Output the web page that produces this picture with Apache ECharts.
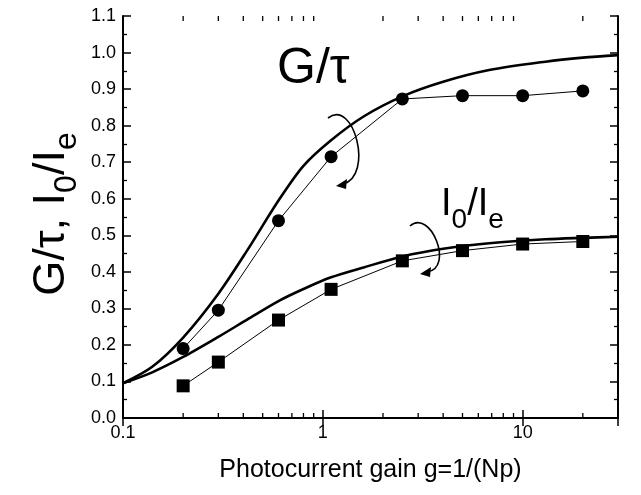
<!DOCTYPE html>
<html>
<head>
<meta charset="utf-8">
<script src="https://cdn.jsdelivr.net/npm/echarts@6/dist/echarts.min.js"></script>
<style>
  html, body { margin: 0; padding: 0; background: #fff; }
  #chart { width: 641px; height: 495px; }
</style>
</head>
<body>
<div id="chart"></div>
<script>
// 测量点（圆点 / 方块）
const gainPts = [0.2, 0.3, 0.6, 1.1, 2.5, 5, 10, 20];
const gTauMeas = [0.19, 0.295, 0.54, 0.715, 0.873, 0.882, 0.882, 0.895];
const i0IeMeas = [0.088, 0.153, 0.268, 0.352, 0.43, 0.458, 0.476, 0.483];

// 理论曲线（粗线）
const gainCurve = [0.1, 0.14, 0.2, 0.3, 0.42, 0.6, 0.8, 1.1, 1.6, 2.5, 4, 6.8, 13, 20, 30];
const gTauCurve = [0.095, 0.14, 0.22, 0.34, 0.46, 0.595, 0.69, 0.76, 0.825, 0.88, 0.92, 0.952, 0.975, 0.986, 0.993];
const i0IeCurve = [0.095, 0.125, 0.167, 0.222, 0.27, 0.32, 0.353, 0.385, 0.412, 0.442, 0.463, 0.478, 0.489, 0.493, 0.496];

// 对数轴次刻度
const minorXTicks = [0.2, 0.3, 0.4, 0.5, 0.6, 0.7, 0.8, 0.9, 2, 3, 4, 5, 6, 7, 8, 9, 20];

const FONT = 'Liberation Sans, Arial, sans-serif';
const pairs = (xs, ys) => xs.map((x, i) => [x, ys[i]]);

const lineAxis = { show: true, lineStyle: { color: '#000', width: 2 } };
const majorTick = { inside: true, length: 8, lineStyle: { color: '#000', width: 1.5 } };
const minorTick = { show: true, splitNumber: 2, length: 4, lineStyle: { color: '#000', width: 1.3 } };

const chart = echarts.init(document.getElementById('chart'));
chart.setOption({
  animation: false,
  grid: { left: 123, right: 23, top: 16, bottom: 77, outerBoundsMode: 'none' },
  xAxis: [{
    type: 'log', logBase: 10, min: 0.1, max: 30,
    axisLine: lineAxis, axisTick: majorTick,
    axisLabel: { fontSize: 18, color: '#000', fontFamily: FONT, margin: 6, showMaxLabel: false,
      formatter: v => String(+v.toPrecision(3)) },
    splitLine: { show: false },
    name: 'Photocurrent gain g=1/(Np)', nameLocation: 'middle', nameGap: 40,
    nameTextStyle: { fontSize: 25, color: '#000', fontFamily: FONT }
  }, {
    type: 'log', logBase: 10, min: 0.1, max: 30, position: 'top',
    axisLine: lineAxis, axisTick: majorTick,
    axisLabel: { show: false }, splitLine: { show: false }
  }],
  yAxis: [{
    type: 'value', min: 0, max: 1.1, interval: 0.1,
    axisLine: lineAxis, axisTick: majorTick, minorTick: minorTick,
    axisLabel: { fontSize: 18, color: '#000', fontFamily: FONT, margin: 7, formatter: v => v.toFixed(1) },
    splitLine: { show: false }
  }, {
    type: 'value', min: 0, max: 1.1, interval: 0.1, position: 'right',
    axisLine: lineAxis, axisTick: majorTick, minorTick: minorTick,
    axisLabel: { show: false },
    splitLine: { show: false }
  }],
  series: [
    {
      name: 'G/τ theory', type: 'line', data: pairs(gainCurve, gTauCurve),
      smooth: 0.3, showSymbol: false,
      lineStyle: { color: '#000', width: 2.6 }
    },
    {
      name: 'I0/Ie theory', type: 'line', data: pairs(gainCurve, i0IeCurve),
      smooth: 0.3, showSymbol: false,
      lineStyle: { color: '#000', width: 2.6 }
    },
    {
      name: 'G/τ', type: 'line', data: pairs(gainPts, gTauMeas),
      symbol: 'circle', symbolSize: 13,
      lineStyle: { color: '#000', width: 1 }, itemStyle: { color: '#000' }
    },
    {
      name: 'I0/Ie', type: 'line', data: pairs(gainPts, i0IeMeas),
      symbol: 'rect', symbolSize: 13,
      lineStyle: { color: '#000', width: 1 }, itemStyle: { color: '#000' }
    },
    {
      // 对数轴次刻度（上下两边）
      type: 'custom', silent: true, z: 5,
      data: minorXTicks.map(v => [v, 0]),
      renderItem: (params, api) => {
        const b = api.coord([api.value(0), 0]);
        const t = api.coord([api.value(0), 1.1]);
        const st = { stroke: '#000', lineWidth: 1.3 };
        return {
          type: 'group',
          children: [
            { type: 'line', shape: { x1: b[0], y1: b[1], x2: b[0], y2: b[1] - 5 }, style: st },
            { type: 'line', shape: { x1: t[0], y1: t[1], x2: t[0], y2: t[1] + 5 }, style: st }
          ]
        };
      }
    }
  ],
  graphic: [
    // y 轴标题
    {
      type: 'text', x: 52, y: 214, rotation: Math.PI / 2,
      style: {
        text: '{m|G/τ, I}{s|0}{m|/I}{s|e}', align: 'center', verticalAlign: 'middle',
        rich: {
          m: { fontSize: 45, fontFamily: FONT, fill: '#000', lineHeight: 46, verticalAlign: 'top' },
          s: { fontSize: 32, fontFamily: FONT, fill: '#000', lineHeight: 32, padding: [22, 0, 0, 0], verticalAlign: 'top' }
        }
      }
    },
    // G/τ 标注
    {
      type: 'text', x: 277, y: 44,
      style: { text: 'G/τ', fontSize: 50, fontFamily: FONT, fill: '#000' }
    },
    // I0/Ie 标注
    {
      type: 'text', x: 441, y: 186,
      style: {
        text: '{m|I}{s|0}{m|/I}{s|e}',
        rich: {
          m: { fontSize: 38, fontFamily: FONT, fill: '#000', lineHeight: 40, verticalAlign: 'top' },
          s: { fontSize: 28, fontFamily: FONT, fill: '#000', lineHeight: 28, padding: [20, 0, 0, 0], verticalAlign: 'top' }
        }
      }
    },
    // 弯箭头
    {
      type: 'bezierCurve',
      shape: { x1: 328, y1: 118, cpx1: 354, cpy1: 98, cpx2: 374, cpy2: 176, x2: 343, y2: 184 },
      style: { stroke: '#000', lineWidth: 1.6, fill: null }
    },
    {
      type: 'polygon',
      shape: { points: [[336, 186], [347, 179], [346, 189]] },
      style: { fill: '#000' }
    },
    {
      type: 'bezierCurve',
      shape: { x1: 410, y1: 226, cpx1: 430, cpy1: 208, cpx2: 455, cpy2: 268, x2: 427, y2: 272 },
      style: { stroke: '#000', lineWidth: 1.6, fill: null }
    },
    {
      type: 'polygon',
      shape: { points: [[420, 274], [431, 267], [430, 277]] },
      style: { fill: '#000' }
    }
  ]
});
</script>
</body>
</html>
